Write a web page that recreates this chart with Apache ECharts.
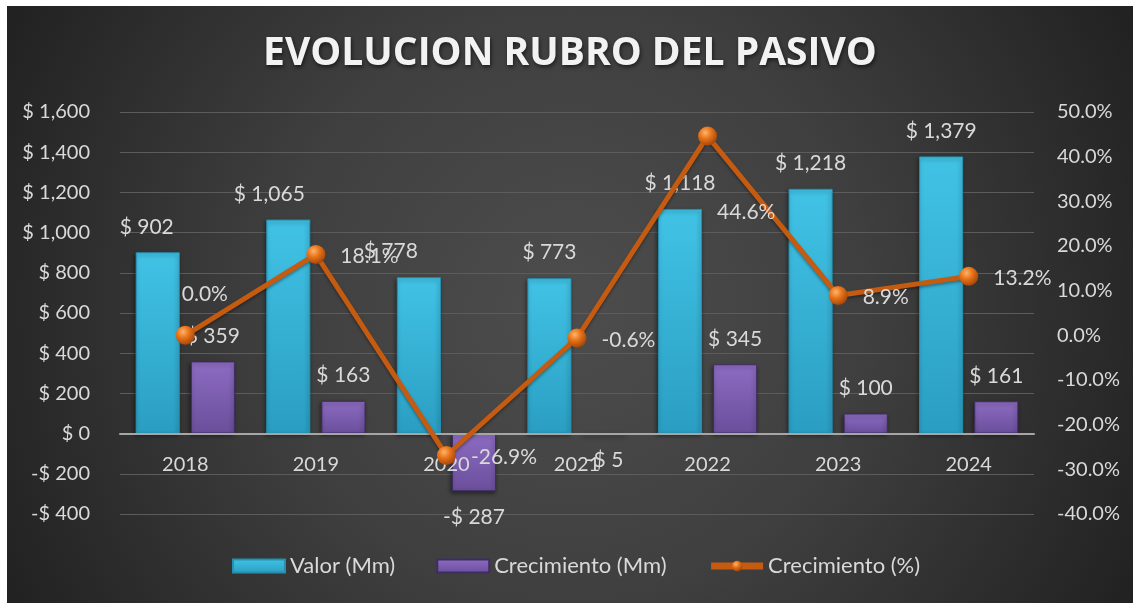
<!DOCTYPE html>
<html>
<head>
<meta charset="utf-8">
<title>Evolucion rubro del pasivo</title>
<script src="https://cdn.jsdelivr.net/npm/echarts@6/dist/echarts.min.js"></script>
<style>
    body { margin: 0; background: #ffffff; }
    #pasivoChart { position: absolute; left: 7px; top: 6px; width: 1126px; height: 597px; }
</style>
</head>
<body>
<div id="pasivoChart"></div>
<script>
// datos del grafico
var anios = ['2018', '2019', '2020', '2021', '2022', '2023', '2024'];
var valorMm = [902, 1065, 778, 773, 1118, 1218, 1379];
var crecimientoMm = [359, 163, -287, -5, 345, 100, 161];
var crecimientoPct = [0.0, 18.1, -26.9, -0.6, 44.6, 8.9, 13.2];

// escala del eje izquierdo
var yMin = -400, yMax = 1600, yStep = 200;

// desplazamientos de etiquetas (como en el original)
var valorLabelDx = [-11, -19, -28, 0, 0, 0, 0];
var pctLabelMove = {0: [-28, -41], 4: [-15, 76]};

var FONT = 'Lato';
var TXT = '#d9d9d9';
var GRID_H = 402;

function fmtMoney(v) {
    var s = Math.abs(v).toLocaleString('en-US');
    return (v < 0 ? '-$ ' : '$ ') + s;
}

function fmtPct(v) {
    return v.toFixed(1) + '%';
}

initPasivoChart();

function initPasivoChart() {
    var valorData = [];
    var crecData = [];
    var pctData = [];
    $each(valorMm, function (i, v) {
        valorData.push({value: v, label: {offset: [valorLabelDx[i], 0]}});
    });
    $each(crecimientoMm, function (i, v) {
        crecData.push({value: v, label: {position: v < 0 ? 'bottom' : 'top'}});
    });
    $each(crecimientoPct, function (i, v) {
        var item = {value: v};
        if (pctLabelMove[i]) {
            item.label = {offset: pctLabelMove[i]};
        }
        pctData.push(item);
    });

    // eje X sobre el cero: subir el eje la distancia de min a 0
    var zeroOffset = -GRID_H * (0 - yMin) / (yMax - yMin);

    var chart = echarts.init(document.getElementById('pasivoChart'));
    var option = {
        animation: false,
        backgroundColor: {
            type: 'radial', x: 563, y: 300, r: 660, global: true,
            colorStops: [
                {offset: 0, color: '#4d4d4d'},
                {offset: 0.45, color: '#3f3f3f'},
                {offset: 1, color: '#1f1f1f'}
            ]
        },
        textStyle: {fontFamily: FONT},
        title: {
            text: 'EVOLUCION RUBRO DEL PASIVO',
            left: 'center',
            top: 28,
            padding: 0,
            textStyle: {
                color: '#f2f2f2',
                fontFamily: 'Open Sans',
                fontWeight: 'bold',
                fontSize: 39,
                textShadowColor: 'rgba(0,0,0,0.6)',
                textShadowBlur: 4,
                textShadowOffsetX: 1,
                textShadowOffsetY: 2
            }
        },
        legend: {
            left: 232 - 7,
            top: 549,
            padding: 0,
            itemWidth: 52,
            itemHeight: 13,
            itemGap: 41,
            textStyle: {color: TXT, fontSize: 22, fontFamily: FONT},
            data: [
                {name: 'Valor (Mm)', icon: 'rect'},
                {name: 'Crecimiento (Mm)', icon: 'rect'},
                {name: 'Crecimiento (%)', lineStyle: {width: 7}}
            ]
        },
        grid: {
            left: 113,
            right: 99,
            top: 106,
            height: GRID_H,
            containLabel: false,
            outerBoundsMode: 'none'
        },
        xAxis: {
            type: 'category',
            data: anios,
            offset: zeroOffset,
            z: 3,
            axisTick: {show: false},
            axisLine: {onZero: false, lineStyle: {color: '#a6a6a6', width: 2}},
            axisLabel: {color: TXT, fontSize: 20, margin: 21, fontFamily: FONT}
        },
        yAxis: [
            {
                type: 'value',
                min: yMin,
                max: yMax,
                interval: yStep,
                axisLine: {show: false},
                axisTick: {show: false},
                splitLine: {lineStyle: {color: '#5c5c5c', width: 1}},
                axisLabel: {color: TXT, fontSize: 20, margin: 30, fontFamily: FONT, formatter: fmtMoney}
            },
            {
                type: 'value',
                min: -40,
                max: 50,
                interval: 10,
                axisLine: {show: false},
                axisTick: {show: false},
                splitLine: {show: false},
                axisLabel: {color: TXT, fontSize: 20, margin: 23, fontFamily: FONT, formatter: fmtPct}
            }
        ],
        series: [
            {
                name: 'Valor (Mm)',
                type: 'bar',
                barGap: '25%',
                barCategoryGap: '24%',
                data: valorData,
                itemStyle: {
                    color: {
                        type: 'linear', x: 0, y: 0, x2: 0, y2: 1,
                        colorStops: [
                            {offset: 0, color: '#41c3e6'},
                            {offset: 1, color: '#2a9ec2'}
                        ]
                    },
                    borderColor: '#2590b0',
                    borderWidth: 1,
                    shadowColor: 'rgba(0,0,0,0.45)',
                    shadowBlur: 4,
                    shadowOffsetX: -1,
                    shadowOffsetY: 2
                },
                label: {
                    show: true,
                    position: 'top',
                    distance: 15,
                    color: TXT,
                    fontSize: 21,
                    fontFamily: FONT,
                    formatter: function (p) { return fmtMoney(p.value); }
                }
            },
            {
                name: 'Crecimiento (Mm)',
                type: 'bar',
                data: crecData,
                itemStyle: {
                    color: {
                        type: 'linear', x: 0, y: 0, x2: 0, y2: 1,
                        colorStops: [
                            {offset: 0, color: '#8d6cc2'},
                            {offset: 1, color: '#6a4e9b'}
                        ]
                    },
                    borderColor: '#3f2d61',
                    borderWidth: 1,
                    shadowColor: 'rgba(0,0,0,0.45)',
                    shadowBlur: 4,
                    shadowOffsetX: -1,
                    shadowOffsetY: 2
                },
                label: {
                    show: true,
                    distance: 15,
                    color: TXT,
                    fontSize: 21,
                    fontFamily: FONT,
                    formatter: function (p) { return fmtMoney(p.value); }
                }
            },
            {
                name: 'Crecimiento (%)',
                type: 'line',
                yAxisIndex: 1,
                z: 5,
                data: pctData,
                symbol: 'circle',
                symbolSize: 19,
                lineStyle: {
                    color: '#c55a11',
                    width: 5,
                    shadowColor: 'rgba(0,0,0,0.35)',
                    shadowBlur: 3,
                    shadowOffsetY: 2
                },
                itemStyle: {
                    color: {
                        type: 'radial', x: 0.38, y: 0.32, r: 0.7,
                        colorStops: [
                            {offset: 0, color: '#ffb46a'},
                            {offset: 0.45, color: '#e8741a'},
                            {offset: 1, color: '#a4460a'}
                        ]
                    },
                    borderWidth: 0
                },
                label: {
                    show: true,
                    position: 'right',
                    distance: 15,
                    offset: [0, 2],
                    color: TXT,
                    fontSize: 21,
                    fontFamily: FONT,
                    formatter: function (p) { return fmtPct(p.value); }
                }
            }
        ]
    };
    chart.setOption(option);
}

function $each(arr, fn) {
    for (var i = 0; i < arr.length; i++) {
        fn(i, arr[i]);
    }
}
</script>
</body>
</html>
